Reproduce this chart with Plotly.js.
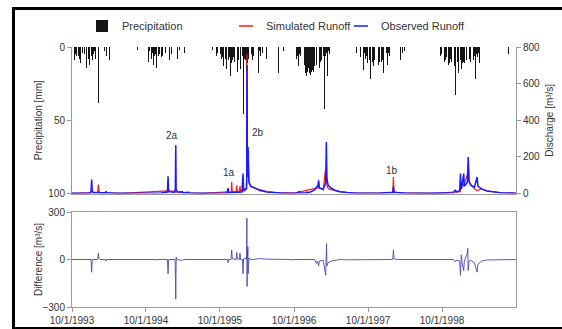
<!DOCTYPE html>
<html>
<head>
<meta charset="utf-8">
<script src="https://cdn.plot.ly/plotly-3.0.1.min.js"></script>
<style>
html,body{margin:0;padding:0;background:#fff;}
#chart{width:562px;height:329px;}
</style>
</head>
<body>
<div id="chart"></div>
<script>
// ---------------- data ----------------
const xRange = ['1993-10-01', '1999-10-01'];
const tickDates = ['1993-10-01','1994-10-01','1995-10-01','1996-10-01','1997-10-01','1998-10-01'];
const tickText = ['10/1/1993','10/1/1994','10/1/1995','10/1/1996','10/1/1997','10/1/1998'];
const precipTicks = [0, 50, 100];
const dischargeTicks = [0, 200, 400, 600, 800];
const diffTicks = [-300, 0, 300];

const precipDates = [
'1993-10-06','1993-10-14','1993-10-22','1993-10-31','1993-11-06','1993-11-12','1993-11-19','1993-11-29','1993-12-05','1993-12-12','1993-12-18','1993-12-26','1994-01-03','1994-01-09','1994-01-15','1994-01-24','1994-02-08','1994-02-15','1994-03-03','1994-03-20','1994-04-05','1994-04-22','1994-05-10','1994-06-20','1994-07-25','1994-08-20',
'1993-10-10','1993-10-18','1993-10-26','1993-11-03','1993-11-09','1993-11-15','1993-11-23','1993-12-02','1993-12-08','1993-12-15','1993-12-22','1993-12-30','1994-01-06','1994-01-12','1994-01-19','1994-02-02','1994-02-25','1994-03-10',
'1994-09-27','1994-10-06','1994-10-14','1994-10-21','1994-10-29','1994-11-06','1994-11-13','1994-11-21','1994-11-29','1994-12-04','1994-12-10','1994-12-17','1994-12-24','1995-01-02','1995-01-09','1995-01-18','1995-01-26','1995-02-05','1995-02-22','1995-03-05','1995-03-28','1995-04-10','1995-04-27','1995-05-22','1995-06-25','1995-07-30','1995-08-25',
'1994-10-02','1994-10-10','1994-10-18','1994-10-25','1994-11-02','1994-11-09','1994-11-17','1994-11-25','1994-12-01','1994-12-07','1994-12-14','1994-12-21','1994-12-28','1995-01-05','1995-01-13','1995-01-22','1995-02-12','1995-03-15',
'1995-09-06','1995-09-14','1995-09-22','1995-10-01','1995-10-09','1995-10-18','1995-10-25','1995-11-02','1995-11-09','1995-11-15','1995-11-21','1995-11-28','1995-12-05','1995-12-12','1995-12-19','1995-12-27','1996-01-04','1996-01-11','1996-01-18','1996-01-25','1996-02-01','1996-02-08','1996-02-15','1996-02-22','1996-03-02','1996-03-10','1996-03-18','1996-03-26','1996-04-08','1996-04-18','1996-05-05','1996-05-18','1996-06-05','1996-07-15','1996-08-10',
'1995-09-18','1995-09-26','1995-10-05','1995-10-13','1995-10-21','1995-10-29','1995-11-05','1995-11-12','1995-11-18','1995-11-25','1995-12-02','1995-12-08','1995-12-15','1995-12-23','1995-12-31','1996-01-08','1996-01-14','1996-01-21','1996-01-29','1996-02-04','1996-02-11','1996-02-18','1996-02-26','1996-03-06','1996-03-14','1996-03-22','1996-04-01','1996-04-13','1996-04-28',
'1996-10-05','1996-10-14','1996-10-22','1996-11-01','1996-11-10','1996-11-18','1996-11-25','1996-12-02','1996-12-08','1996-12-14','1996-12-20','1996-12-27','1997-01-03','1997-01-08','1997-01-13','1997-01-19','1997-01-28','1997-02-04','1997-02-12','1997-02-20','1997-02-27','1997-03-06','1997-03-14','1997-03-24','1997-04-07','1997-04-22','1997-06-20','1997-08-05','1997-08-25',
'1996-10-10','1996-10-18','1996-10-28','1996-11-05','1996-11-14','1996-11-21','1996-11-28','1996-12-05','1996-12-11','1996-12-17','1996-12-23','1996-12-30','1997-01-05','1997-01-10','1997-01-16','1997-01-23','1997-02-01','1997-02-08','1997-02-16','1997-02-24','1997-03-10','1997-03-19','1997-04-01',
'1997-09-08','1997-09-18','1997-09-27','1997-10-05','1997-10-12','1997-10-20','1997-10-28','1997-11-05','1997-11-14','1997-11-22','1997-11-30','1997-12-07','1997-12-15','1997-12-24','1998-01-05','1998-01-15','1998-02-01','1998-02-12','1998-03-09','1998-03-20','1998-04-11','1998-06-10','1998-07-05',
'1997-09-13','1997-09-22','1997-10-01','1997-10-08','1997-10-16','1997-10-24','1997-11-01','1997-11-09','1997-11-18','1997-11-26','1997-12-03','1997-12-11','1997-12-19','1997-12-30','1998-01-10','1998-01-22','1998-02-20','1998-03-30',
'1998-09-23','1998-10-02','1998-10-10','1998-10-18','1998-10-26','1998-11-03','1998-11-10','1998-11-17','1998-11-24','1998-12-01','1998-12-06','1998-12-13','1998-12-20','1998-12-28','1999-01-05','1999-01-13','1999-01-20','1999-01-27','1999-02-02','1999-02-10','1999-02-18','1999-02-26','1999-03-06','1999-03-15','1999-03-25','1999-04-05','1999-04-25','1999-05-15','1999-06-05','1999-07-08','1999-08-26','1999-09-20',
'1998-09-28','1998-10-06','1998-10-14','1998-10-22','1998-10-30','1998-11-06','1998-11-13','1998-11-20','1998-11-28','1998-12-03','1998-12-09','1998-12-16','1998-12-24','1999-01-01','1999-01-09','1999-01-16','1999-01-23','1999-01-30','1999-02-06','1999-02-14','1999-02-22','1999-03-02','1999-03-10','1999-03-20','1999-03-30','1999-04-15','1999-05-05'
];
const precipMM = [
4,9,6,13,8,11,5,19,10,14,7,12,27,9,5,8,38,4,12,6,9,8,3,2,1.5,2,
3,5,4,6,3,7,4,5,6,4,8,5,6,4,3,3,2,3,
3,7,10,16,8,12,6,14,9,11,20,7,13,10,6,27,9,5,38,8,20,4,12,6,2,1.5,2,
4,5,3,6,4,7,5,4,6,5,4,6,5,4,5,3,3,2,
3,6,9,12,8,13,10,15,9,12,20,11,16,10,14,17,12,15,9,46,13,16,11,14,29,9,12,7,18,6,5,8,11,18,3,
4,6,5,7,6,8,6,9,7,8,9,7,10,8,9,7,10,6,8,9,6,8,7,5,6,4,5,3,4,
5,8,13,6,10,14,18,20,16,21,19,17,20,15,22,12,22,14,9,11,42,6,20,5,9,4,2,4,7,
4,6,5,7,9,12,15,17,14,18,15,16,17,13,16,14,12,10,8,6,4,3,3,
16,8,11,14,22,9,13,17,30,12,15,10,18,8,12,6,47,5,9,4,11,3,4,
4,6,7,9,8,10,9,11,8,10,7,9,6,4,4,3,2,3,
6,10,14,9,17,12,15,10,16,13,33,14,18,12,15,32,11,16,24,13,10,14,9,22,7,11,20,5,4,8,5,2,
5,8,10,7,9,11,8,12,10,9,11,10,13,9,11,10,12,9,10,8,9,7,6,5,4,5,3
];

const obsDates = [
'1993-10-01','1993-11-15','1993-12-28','1994-01-03','1994-01-06','1994-01-09','1994-01-14','1994-02-07','1994-02-09','1994-02-13','1994-03-15','1994-03-18','1994-03-21','1994-05-01','1994-09-01',
'1994-12-15','1995-01-15','1995-01-18','1995-01-21','1995-02-20','1995-02-23','1995-02-25','1995-02-27','1995-03-05','1995-03-30','1995-04-02','1995-05-01','1995-05-05','1995-07-01',
'1995-11-05','1995-11-10','1995-11-13','1995-11-28','1995-12-23','1996-01-18','1996-01-23','1996-01-26','1996-02-09','1996-02-10','1996-02-11','1996-02-12','1996-02-13','1996-02-14','1996-02-16','1996-02-17','1996-02-18','1996-02-21','1996-03-01','1996-03-20','1996-04-15','1996-05-20','1996-07-01','1996-08-10',
'1996-10-20','1996-10-25','1996-10-28','1996-12-01','1996-12-03','1996-12-06','1996-12-20','1997-01-10','1997-01-20','1997-01-26','1997-01-30','1997-02-03','1997-02-22','1997-03-06','1997-03-09','1997-03-12','1997-03-18','1997-04-01','1997-04-20','1997-05-15','1997-06-20','1997-08-01',
'1997-12-01','1998-01-31','1998-02-03','1998-02-06','1998-04-01','1998-08-01',
'1998-11-25','1998-12-06','1998-12-10','1998-12-27','1998-12-31','1999-01-03','1999-01-06','1999-01-16','1999-01-19','1999-02-03','1999-02-07','1999-02-11','1999-02-20','1999-03-10','1999-03-23','1999-03-27','1999-04-15','1999-05-10','1999-06-15','1999-07-16','1999-09-30'
];
const obsQ = [
2,2,3,12,76,14,5,5,8,4,4,12,4,2,1,
3,8,94,10,6,30,263,25,8,10,4,7,3,1,
3,29,4,6,5,8,109,12,25,60,500,700,300,160,90,254,120,60,40,28,16,8,4,2,
3,12,3,4,10,4,8,20,36,40,72,30,25,60,281,80,45,30,18,10,5,2,
3,5,36,6,3,1,
4,20,8,15,109,25,30,109,40,60,199,70,45,35,90,40,25,14,8,4,2
];

const simDates = [
'1993-10-01','1994-01-06','1994-02-05','1994-02-08','1994-02-11','1994-02-18','1994-03-18','1994-06-01',
'1995-01-18','1995-02-25','1995-02-28','1995-04-01','1995-07-01',
'1995-11-10','1995-11-25','1995-11-28','1995-12-01','1995-12-20','1995-12-23','1995-12-26','1996-01-05','1996-01-08','1996-01-11','1996-01-23','1996-02-09','1996-02-10','1996-02-11','1996-02-12','1996-02-13','1996-02-14','1996-02-16','1996-02-17','1996-02-18','1996-02-21','1996-03-01','1996-03-20','1996-04-15','1996-05-20','1996-07-01','1996-10-01',
'1997-01-30','1997-02-22','1997-03-04','1997-03-09','1997-03-12','1997-03-20','1997-04-10','1997-05-15','1997-07-01','1997-12-01',
'1998-01-31','1998-02-03','1998-02-06','1998-03-01','1998-09-01',
'1998-12-20','1998-12-31','1999-01-04','1999-01-16','1999-02-05','1999-02-09','1999-02-12','1999-02-25','1999-03-23','1999-04-10','1999-05-10','1999-06-15','1999-07-16','1999-09-30'
];
const simQ = [
1,4,5,49,10,3,4,1,
14,12,8,4,1,
9,6,63,12,8,45,10,8,40,12,20,30,150,760,530,380,170,170,164,100,70,38,30,22,10,5,2,
32,20,125,120,40,25,18,10,4,2,
8,90,10,3,1,
8,10,60,40,110,130,60,40,15,25,15,8,4,2
];

const diffDates = [
'1993-10-01','1994-01-03','1994-01-06','1994-01-09','1994-02-05','1994-02-08','1994-02-11','1994-02-16','1994-03-15','1994-03-18','1994-03-21',
'1994-11-20','1994-11-22','1994-11-25','1995-01-15','1995-01-18','1995-01-21','1995-02-22','1995-02-25','1995-02-27','1995-03-02','1995-03-30','1995-04-05',
'1995-11-07','1995-11-10','1995-11-13','1995-11-25','1995-11-28','1995-12-01','1995-12-20','1995-12-23','1995-12-26','1996-01-05','1996-01-08','1996-01-11','1996-01-20','1996-01-23','1996-01-26','1996-02-09','1996-02-10','1996-02-11','1996-02-12','1996-02-13','1996-02-14','1996-02-16','1996-02-17','1996-02-18','1996-02-21','1996-03-01','1996-04-15','1996-05-20','1996-07-01',
'1996-09-15','1996-09-18','1996-09-21','1997-01-10','1997-01-20','1997-01-24','1997-01-30','1997-02-03','1997-02-22','1997-03-06','1997-03-08','1997-03-10','1997-03-12','1997-03-18','1997-04-01','1997-05-15','1997-06-20',
'1997-12-01','1998-01-31','1998-02-03','1998-02-06','1998-03-01',
'1998-11-25','1998-12-06','1998-12-10','1998-12-27','1998-12-31','1999-01-03','1999-01-04','1999-01-08','1999-01-16','1999-01-19','1999-02-03','1999-02-05','1999-02-07','1999-02-11','1999-02-20','1999-03-10','1999-03-23','1999-03-27','1999-04-15','1999-05-10','1999-07-16','1999-09-30'
];
const diffQ = [
0,0,-80,0,0,40,8,0,0,-10,0,
0,-5,0,0,-90,0,0,-250,15,0,-6,0,
0,-20,0,0,60,5,0,45,3,0,40,0,0,-90,5,5,90,260,-170,80,10,80,-90,-20,10,-2,6,2,0,
0,-5,0,0,-25,-10,-40,-10,-5,-100,-10,100,-40,-20,-10,0,-2,
0,0,60,4,0,
0,-15,-5,-10,-100,-5,30,-20,-70,-10,40,70,-70,-10,-5,-20,-80,-30,-10,-3,0,0
];

const eventLabels = ['2a', '2b', '1a', '1b'];
const eventDates = ['1995-02-07', '1996-04-07', '1995-11-15', '1998-01-26'];
const eventQ = [317, 333, 113, 127];

// ---------------- chart ----------------
const fontFam = 'Arial, "Liberation Sans", sans-serif';
const axisGrey = '#9a9a9a';
const textCol = '#333333';
const redCol = '#ff1a1a';
const blueCol = '#1a1aff';
const DAY = 86400000;

const traces = [
  {type:'bar', name:'Precipitation', x:precipDates, y:precipMM, xaxis:'x2', yaxis:'y',
   width: precipDates.map(()=>2.5*DAY), marker:{color:'#151515', line:{width:0}}, legend:'legend'},
  {type:'scatter', mode:'lines', name:'Simulated Runoff', x:simDates, y:simQ, xaxis:'x2', yaxis:'y2',
   line:{color:redCol, width:1.2}, showlegend:false},
  {type:'scatter', mode:'lines', name:'Observed Runoff', x:obsDates, y:obsQ, xaxis:'x2', yaxis:'y2',
   line:{color:blueCol, width:1.5}, showlegend:false},
  {type:'scatter', mode:'lines', name:'Difference', x:diffDates, y:diffQ, xaxis:'x', yaxis:'y3',
   line:{color:'#4a4ab0', width:0.9}, showlegend:false},
  {type:'scatter', mode:'markers', name:'Simulated Runoff', x:[null], y:[null], xaxis:'x2', yaxis:'y2',
   marker:{symbol:'line-ew', size:10, line:{color:redCol, width:1.5}}, legend:'legend2'},
  {type:'scatter', mode:'markers', name:'Observed Runoff', x:[null], y:[null], xaxis:'x2', yaxis:'y2',
   marker:{symbol:'line-ew', size:10, line:{color:blueCol, width:1.5}}, legend:'legend3'}
];

const L = 72, R = 516, T = 47, B = 307, W = 562, H = 329;
const px = v => (v - L) / (R - L);
const py = v => (B - v) / (B - T);

const axisCommon = {showgrid:false, zeroline:false, showline:true, linecolor:axisGrey, linewidth:1,
  ticks:'outside', ticklen:4, tickcolor:axisGrey, tickfont:{size:10, color:textCol, family:fontFam}};

const legendCommon = {orientation:'h', xanchor:'left', yanchor:'middle', y:py(26),
  bgcolor:'rgba(0,0,0,0)', font:{size:11, color:textCol, family:fontFam}};

const layout = {
  width:W, height:H,
  margin:{l:L, r:W-R, t:T, b:H-B, pad:0},
  paper_bgcolor:'#ffffff', plot_bgcolor:'#ffffff',
  font:{family:fontFam, size:10, color:textCol},
  bargap:0,
  xaxis: Object.assign({}, axisCommon, {type:'date', range:xRange, domain:[0,1], anchor:'y3',
    tickmode:'array', tickvals:tickDates, ticktext:tickText, mirror:true}),
  xaxis2: Object.assign({}, axisCommon, {type:'date', range:xRange, domain:[0,1], anchor:'y',
    showticklabels:false, ticks:''}),
  yaxis: Object.assign({}, axisCommon, {domain:[py(193.5),1], anchor:'x2', range:[100,0],
    tickmode:'array', tickvals:precipTicks,
    title:{text:'Precipitation [mm]', font:{size:10, color:textCol}}}),
  yaxis2: Object.assign({}, axisCommon, {overlaying:'y', side:'right', anchor:'x2', range:[0,800],
    tickmode:'array', tickvals:dischargeTicks,
    title:{text:'Discharge [m³/s]', font:{size:10, color:textCol}, standoff:6}}),
  yaxis3: Object.assign({}, axisCommon, {domain:[0,py(212)], anchor:'x', range:[-300,300], mirror:true,
    tickmode:'array', tickvals:diffTicks,
    title:{text:'Difference [m³/s]', font:{size:10, color:textCol}}}),
  legend: Object.assign({}, legendCommon, {x:px(82)}),
  legend2: Object.assign({}, legendCommon, {x:px(226)}),
  legend3: Object.assign({}, legendCommon, {x:px(341)}),
  annotations: eventLabels.map((t,i)=>({text:t, x:eventDates[i], y:eventQ[i], xref:'x2', yref:'y2',
    showarrow:false, font:{size:10, color:textCol, family:fontFam}})),
  shapes:[{type:'rect', xref:'paper', yref:'paper', x0:px(13.5), x1:px(580), y0:py(328.5), y1:py(8.5),
    line:{color:'#000000', width:3}, fillcolor:'rgba(0,0,0,0)'}]
};

Plotly.newPlot('chart', traces, layout, {displayModeBar:false, staticPlot:true});
</script>
</body>
</html>
